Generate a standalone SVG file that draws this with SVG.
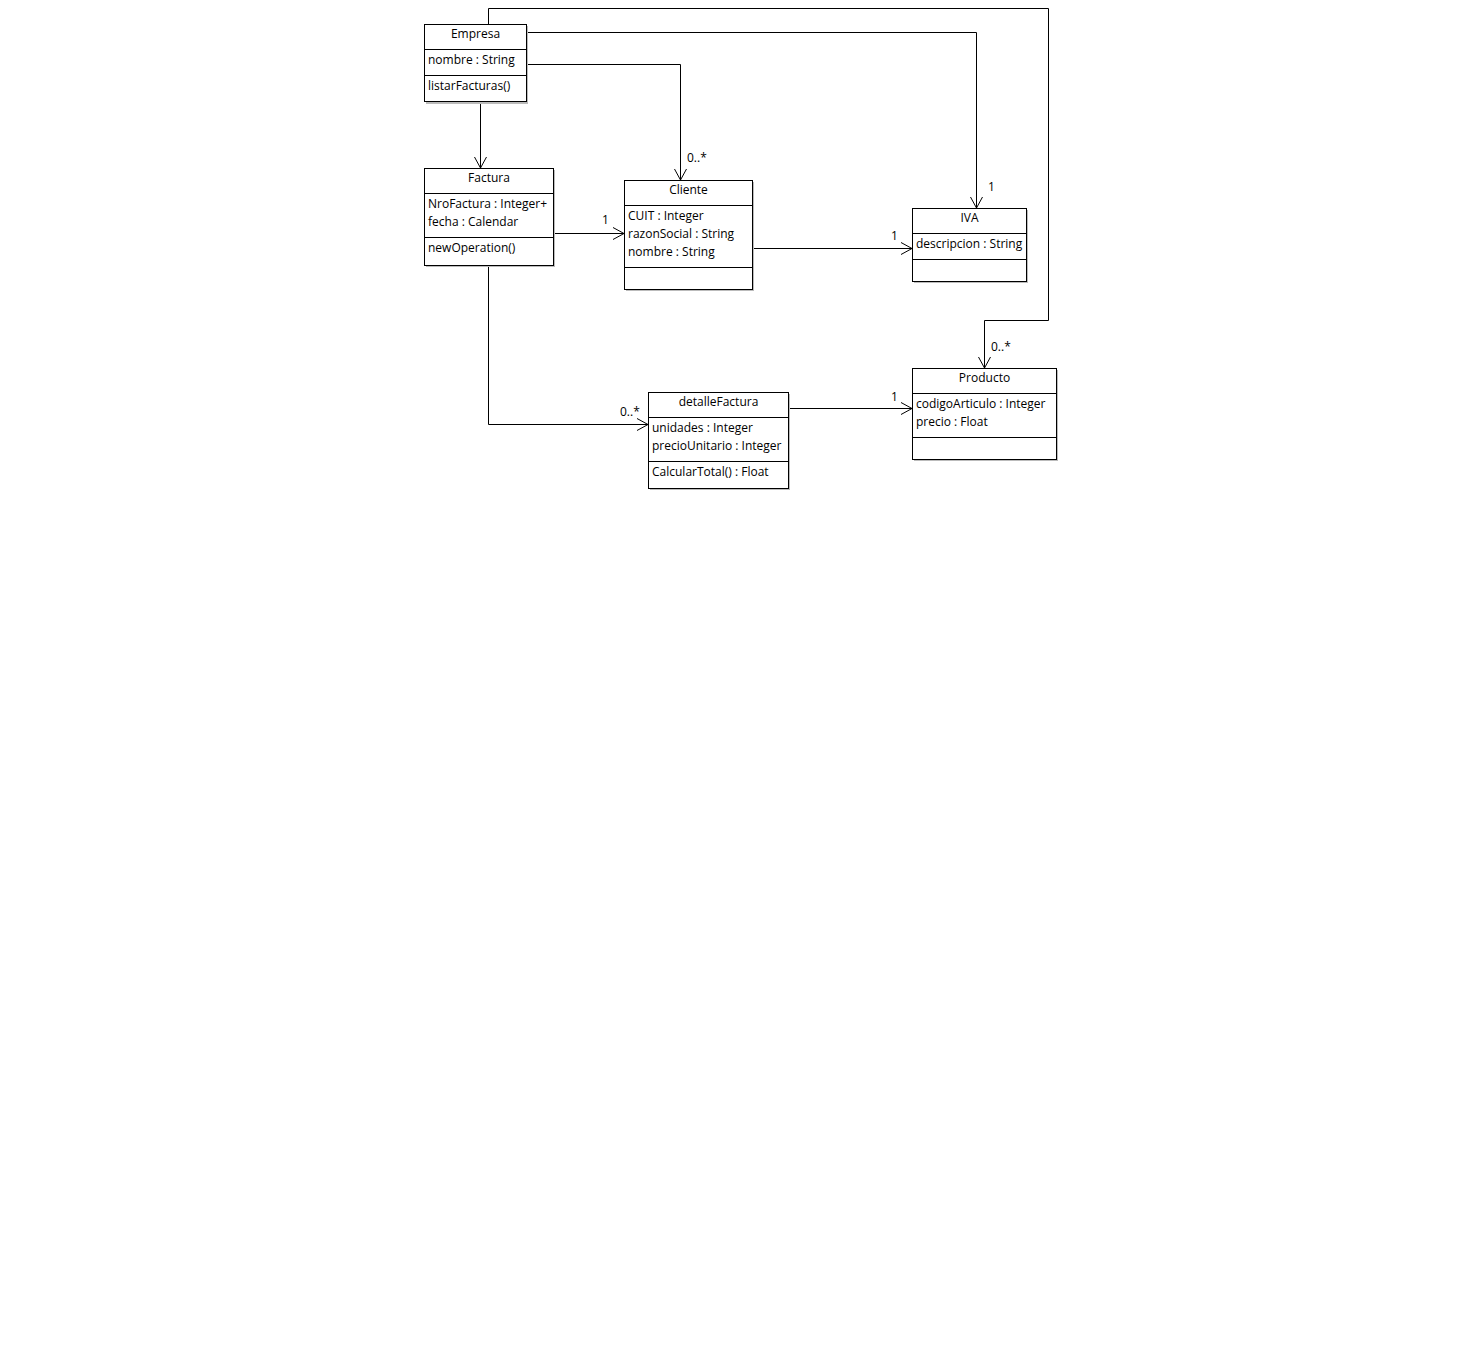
<svg xmlns="http://www.w3.org/2000/svg" width="1480" height="1362" viewBox="0 0 1480 1362">
<style>
text{font-family:"Open Sans","DejaVu Sans","Liberation Sans",sans-serif;font-size:12px;fill:#000}
.c{text-anchor:middle}
.box{fill:#fff;stroke:#000;stroke-width:1}
.sh{fill:#bbb}
.sep{stroke:#000;stroke-width:1}
.edge{fill:none;stroke:#000;stroke-width:1}
</style>
<defs>
<marker id="arr" markerWidth="14" markerHeight="14" refX="12" refY="7" orient="auto" markerUnits="userSpaceOnUse">
<polyline points="1,1 12,7 1,13" fill="none" stroke="#000" stroke-width="1"/>
</marker>
</defs>
<rect width="1480" height="1362" fill="#fff"/>
<g id="connectors">
<polyline class="edge" points="488.5,24 488.5,8.5 1048.5,8.5 1048.5,320.5 984.5,320.5 984.5,368" marker-end="url(#arr)"/>
<text x="991" y="351">0..*</text>
<polyline class="edge" points="526,32.5 976.5,32.5 976.5,208" marker-end="url(#arr)"/>
<text x="988" y="191">1</text>
<polyline class="edge" points="526,64.5 680.5,64.5 680.5,180" marker-end="url(#arr)"/>
<text x="687" y="162">0..*</text>
<polyline class="edge" points="480.5,102 480.5,168" marker-end="url(#arr)"/>
<polyline class="edge" points="553,233.5 624,233.5" marker-end="url(#arr)"/>
<text x="602" y="224">1</text>
<polyline class="edge" points="752,248.5 912,248.5" marker-end="url(#arr)"/>
<text x="891" y="240">1</text>
<polyline class="edge" points="488.5,265 488.5,424.5 648,424.5" marker-end="url(#arr)"/>
<text x="620" y="416">0..*</text>
<polyline class="edge" points="788,408.5 912,408.5" marker-end="url(#arr)"/>
<text x="891" y="401">1</text>
</g>
<g id="Empresa">
<rect class="sh" x="426" y="26" width="102" height="78"/>
<rect class="box" x="424.5" y="24.5" width="102" height="77"/>
<line class="sep" x1="424.5" y1="49.5" x2="526.5" y2="49.5"/>
<line class="sep" x1="424.5" y1="75.5" x2="526.5" y2="75.5"/>
<text class="c" x="475.5" y="38">Empresa</text>
<text x="428" y="64">nombre : String</text>
<text x="428" y="90">listarFacturas()</text>
</g>
<g id="Factura">
<rect class="sh" x="426" y="170" width="129" height="97"/>
<rect class="box" x="424.5" y="168.5" width="129" height="97"/>
<line class="sep" x1="424.5" y1="193.5" x2="553.5" y2="193.5"/>
<line class="sep" x1="424.5" y1="237.5" x2="553.5" y2="237.5"/>
<text class="c" x="489" y="182">Factura</text>
<text x="428" y="208">NroFactura : Integer+</text>
<text x="428" y="226">fecha : Calendar</text>
<text x="428" y="252">newOperation()</text>
</g>
<g id="Cliente">
<rect class="sh" x="626" y="182" width="128" height="109"/>
<rect class="box" x="624.5" y="180.5" width="128" height="109"/>
<line class="sep" x1="624.5" y1="205.5" x2="752.5" y2="205.5"/>
<line class="sep" x1="624.5" y1="267.5" x2="752.5" y2="267.5"/>
<text class="c" x="688.5" y="194">Cliente</text>
<text x="628" y="220">CUIT : Integer</text>
<text x="628" y="238">razonSocial : String</text>
<text x="628" y="256">nombre : String</text>
</g>
<g id="IVA">
<rect class="sh" x="914" y="210" width="114" height="73"/>
<rect class="box" x="912.5" y="208.5" width="114" height="73"/>
<line class="sep" x1="912.5" y1="233.5" x2="1026.5" y2="233.5"/>
<line class="sep" x1="912.5" y1="259.5" x2="1026.5" y2="259.5"/>
<text class="c" x="969.5" y="222">IVA</text>
<text x="916" y="248">descripcion : String</text>
</g>
<g id="detalleFactura">
<rect class="sh" x="650" y="394" width="140" height="96"/>
<rect class="box" x="648.5" y="392.5" width="140" height="96"/>
<line class="sep" x1="648.5" y1="417.5" x2="788.5" y2="417.5"/>
<line class="sep" x1="648.5" y1="461.5" x2="788.5" y2="461.5"/>
<text class="c" x="718.5" y="406">detalleFactura</text>
<text x="652" y="432">unidades : Integer</text>
<text x="652" y="450">precioUnitario : Integer</text>
<text x="652" y="476">CalcularTotal() : Float</text>
</g>
<g id="Producto">
<rect class="sh" x="914" y="370" width="144" height="91"/>
<rect class="box" x="912.5" y="368.5" width="144" height="91"/>
<line class="sep" x1="912.5" y1="393.5" x2="1056.5" y2="393.5"/>
<line class="sep" x1="912.5" y1="437.5" x2="1056.5" y2="437.5"/>
<text class="c" x="984.5" y="382">Producto</text>
<text x="916" y="408">codigoArticulo : Integer</text>
<text x="916" y="426">precio : Float</text>
</g>
</svg>
